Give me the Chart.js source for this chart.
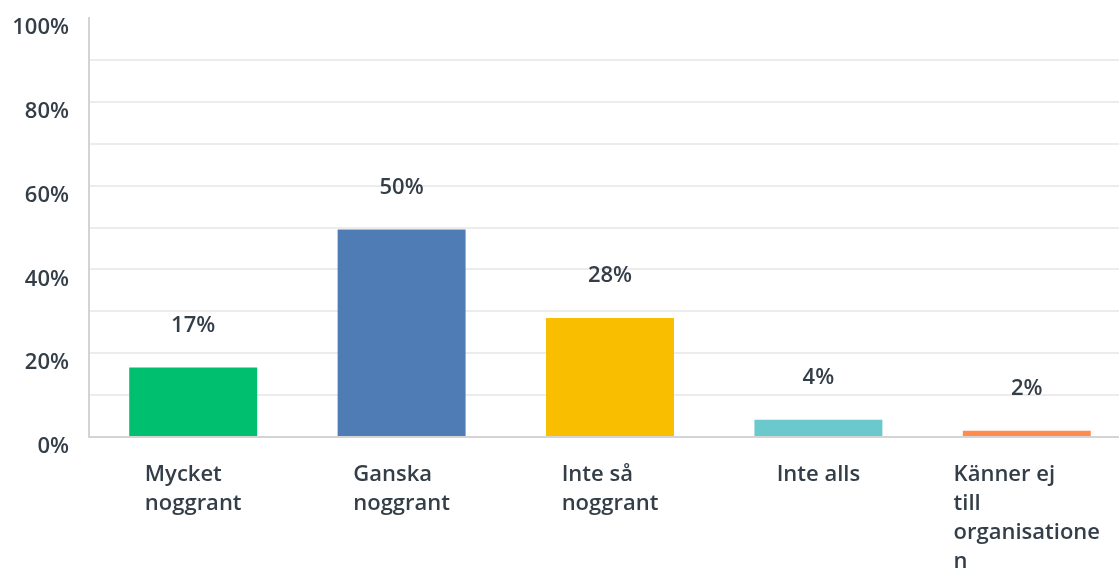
<!DOCTYPE html>
<html lang="sv">
<head>
    <meta charset="UTF-8">
    <title>Noggrant</title>
    <script src="https://cdn.jsdelivr.net/npm/chart.js"></script>
    <style>
        html, body { margin: 0; padding: 0; background: #fff; overflow: hidden; }
        #wrap { width: 1131px; height: 570px; }
    </style>
</head>
<body>
    <div id="wrap"><canvas id="chart" width="1131" height="570"></canvas></div>
    <script>
        const categories = [
            ['Mycket', 'noggrant'],
            ['Ganska', 'noggrant'],
            ['Inte så', 'noggrant'],
            ['Inte alls'],
            ['Känner ej', 'till', 'organisatione', 'n']
        ];
        const values = [16.6, 49.5, 28.4, 4.1, 1.5];
        const barColors = ['#00bf6f', '#507cb6', '#f9be00', '#6bc8cd', '#ff8b4f'];
        const yTicks = [0, 20, 40, 60, 80, 100];

        const FONT = '"Open Sans", sans-serif';
        const TEXT = '#333e48';

        // value labels above bars + category labels (left aligned lines, block centred)
        const labelPlugin = {
            id: 'labels',
            afterDatasetsDraw(chart) {
                const ctx = chart.ctx;
                const meta = chart.getDatasetMeta(0);
                const xScale = chart.scales.x;
                ctx.save();
                ctx.fillStyle = TEXT;
                ctx.font = '600 22px ' + FONT;
                ctx.textBaseline = 'middle';
                meta.data.forEach((bar, i) => {
                    ctx.textAlign = 'center';
                    ctx.fillText(Math.round(values[i]) + '%', bar.x, bar.y - 42);

                    const lines = categories[i];
                    const w = Math.max(...lines.map(l => ctx.measureText(l).width));
                    const left = xScale.getPixelForValue(i) - w / 2;
                    ctx.textAlign = 'left';
                    lines.forEach((l, j) => {
                        ctx.fillText(l, left, chart.chartArea.bottom + 38 + j * 29);
                    });
                });
                ctx.restore();
            }
        };

        new Chart(document.getElementById('chart'), {
            type: 'bar',
            data: {
                labels: categories.map(c => c.join(' ')),
                datasets: [{
                    data: values,
                    backgroundColor: barColors,
                    borderColor: barColors,
                    borderWidth: 0,
                    barPercentage: 0.614,
                    categoryPercentage: 1
                }]
            },
            options: {
                responsive: false,
                animation: false,
                layout: { padding: { top: 18, right: 0, bottom: 0, left: 0 } },
                plugins: {
                    legend: { display: false },
                    tooltip: { enabled: false }
                },
                scales: {
                    x: {
                        grid: { display: false },
                        border: { display: true, color: '#d4d4d4', width: 2 },
                        ticks: { display: false },
                        afterFit(scale) { scale.height = 133; }
                    },
                    y: {
                        min: 0,
                        max: 100,
                        ticks: {
                            stepSize: 10,
                            padding: 20,
                            labelOffset: 10,
                            color: TEXT,
                            font: { family: FONT, size: 22, weight: '600' },
                            callback: v => yTicks.includes(v) ? v + '%' : ''
                        },
                        grid: {
                            drawTicks: false,
                            color: c => c.tick.value === 100 ? 'rgba(0,0,0,0)' : '#ececec',
                            lineWidth: 2
                        },
                        border: { display: true, color: '#d4d4d4', width: 2 },
                        afterFit(scale) {
                            scale.width = 89;
                            scale.paddingTop = 0;
                            scale.paddingBottom = 0;
                        }
                    }
                }
            },
            plugins: [labelPlugin]
        });
    </script>
</body>
</html>
